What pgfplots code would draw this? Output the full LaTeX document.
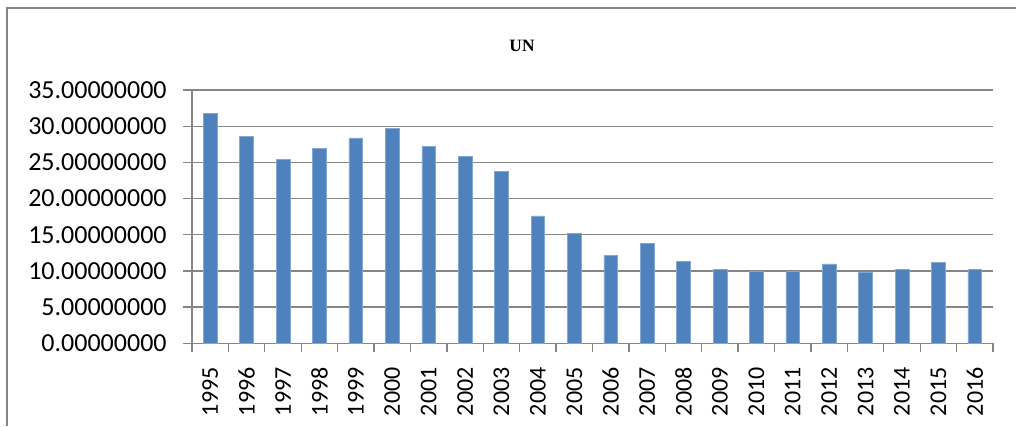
\documentclass[border=0pt]{standalone}
\usepackage{fontspec}
\setmainfont{Carlito}
\newfontfamily\titlefont{Liberation Serif}
\usepackage{pgfplots}
\pgfplotsset{compat=1.18}
\definecolor{barblue}{HTML}{4F81BD}
\definecolor{axgray}{HTML}{868686}
\begin{document}
\begin{tikzpicture}
\useasboundingbox (0,0) rectangle (762pt,319.5pt);
\fill[white] (0,0) rectangle (762pt,319.5pt);
\draw[axgray,line width=0.9pt] (5.25pt,0) -- (5.25pt,313.5pt) -- (762pt,313.5pt);
\node[font=\titlefont\bfseries\fontsize{13}{15}\selectfont] at (391.5pt,285pt) {UN};
\begin{axis}[
  at={(144pt,62pt)}, anchor=south west,
  scale only axis,
  width=600.75pt, height=190pt,
  xmin=-0.5, xmax=21.5,
  ymin=0, ymax=35,
  ytick={0,5,...,35},
  xtick={-0.5,0.5,...,21.5},
  x tick label as interval,
  xticklabels={1995,1996,1997,1998,1999,2000,2001,2002,2003,2004,2005,2006,2007,2008,2009,2010,2011,2012,2013,2014,2015,2016},
  axis x line*=bottom, axis y line*=left,
  axis line style={axgray, line width=1pt, -},
  every tick/.style={axgray, line width=1pt},
  tick align=outside,
  major tick length=6.5pt,
  ymajorgrids,
  grid style={axgray, line width=1pt},
  yticklabel style={font=\fontsize{19.5}{22}\selectfont, xshift=-9pt},
  xticklabel style={font=\fontsize{18}{21}\selectfont, rotate=90, anchor=east, xshift=-8pt},
  /pgf/number format/.cd, fixed, fixed zerofill, precision=8, assume math mode=true,
]
\addplot[ybar, bar width=10.3pt, fill=barblue, draw=barblue!70!white, line width=0.4pt] coordinates {
(0,31.78) (1,28.56) (2,25.38) (3,26.90) (4,28.37) (5,29.71) (6,27.22) (7,25.84) (8,23.72) (9,17.60) (10,15.20)
(11,12.19) (12,13.85) (13,11.36) (14,10.20) (15,10.02) (16,10.02) (17,10.99) (18,9.83) (19,10.20) (20,11.17) (21,10.20)
};
\end{axis}
\end{tikzpicture}
\end{document}
